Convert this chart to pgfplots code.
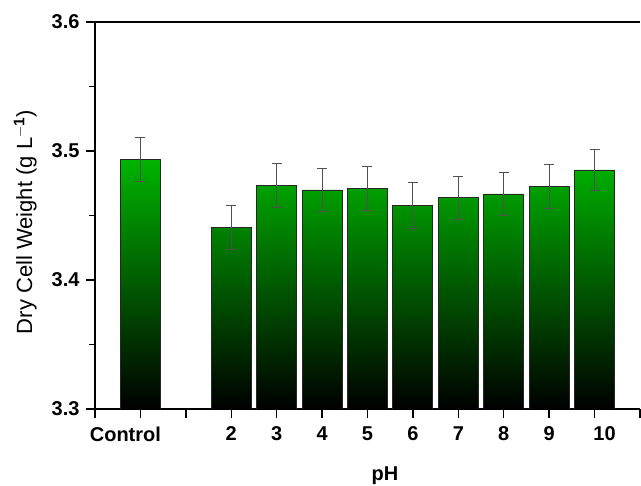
\documentclass[border=0pt]{standalone}
\usepackage{fontspec}
\setmainfont{Liberation Sans}
\usepackage{pgfplots}
\usepackage{pgfplotstable}
\pgfplotsset{compat=1.18}
\definecolor{barTop}{HTML}{00B400}
\definecolor{barMid}{HTML}{009C00}
\definecolor{errGray}{HTML}{505050}

% position, dry cell weight (g/L), error
\pgfplotstableread{
x y err
1 3.4936 0.017
3 3.4406 0.017
4 3.4736 0.017
5 3.4698 0.017
6 3.4711 0.017
7 3.4579 0.018
8 3.4636 0.017
9 3.4667 0.017
10 3.4724 0.017
11 3.4853 0.016
}\dcw

\begin{document}
\begin{tikzpicture}
\begin{axis}[
  scale only axis,
  width=545pt, height=387pt,
  xmin=0, xmax=12, ymin=3.3, ymax=3.6,
  y coord trafo/.code={\pgfmathparse{#1-3.3}},
  y coord inv trafo/.code={\pgfmathparse{#1+3.3}},
  axis x line*=bottom, axis y line*=left,
  axis line style={line width=1.6pt, -},
  xtick={0,...,12},
  xticklabels={,\hspace*{-30pt}Control,,2,3,4,5,6,7,8,9,10\hspace*{-20pt},},
  ytick={3.3,3.4,3.5,3.6},
  minor ytick={3.35,3.45,3.55},
  tick align=outside,
  major tick length=9pt, minor tick length=6pt,
  tick style={line width=1.4pt, black},
  /pgf/number format/assume math mode=true,
  yticklabel={\pgfmathprintnumber[fixed, fixed zerofill, precision=1]{\tick}},
  tick label style={font=\fontsize{20}{20}\selectfont\bfseries},
  xticklabel style={yshift=-5pt},
  yticklabel style={xshift=-3pt},
  xlabel={pH},
  ylabel={Dry Cell Weight (g L$^{\mathbf{-1}}$)},
  xlabel style={font=\fontsize{20}{20}\selectfont\bfseries, at={(axis description cs:0.532,-0.173)}, anchor=center},
  ylabel style={font=\fontsize{22}{22}\selectfont, at={(axis description cs:-0.128,0.483)}, anchor=center},
]
\addplot[ybar, bar width=0.88, draw=black!85, line width=0.9pt,
  top color=barTop, middle color=barMid, bottom color=black]
  table[x=x, y=y] {\dcw};
\addplot[draw=none, mark=none, forget plot,
  error bars/.cd, y dir=both, y explicit,
  error bar style={errGray, line width=0.9pt},
  error mark options={rotate=90, mark size=5pt, errGray, line width=0.9pt}]
  table[x=x, y=y, y error=err] {\dcw};
\draw[line width=1.6pt] (rel axis cs:0,1) -- (rel axis cs:1,1);
\draw[gray, line width=0.9pt] (rel axis cs:1,0) -- (rel axis cs:1,1);
\end{axis}
\pgfresetboundingbox
\path[use as bounding box] (-95pt,-77pt) rectangle (546pt,409pt);
\end{tikzpicture}
\end{document}
